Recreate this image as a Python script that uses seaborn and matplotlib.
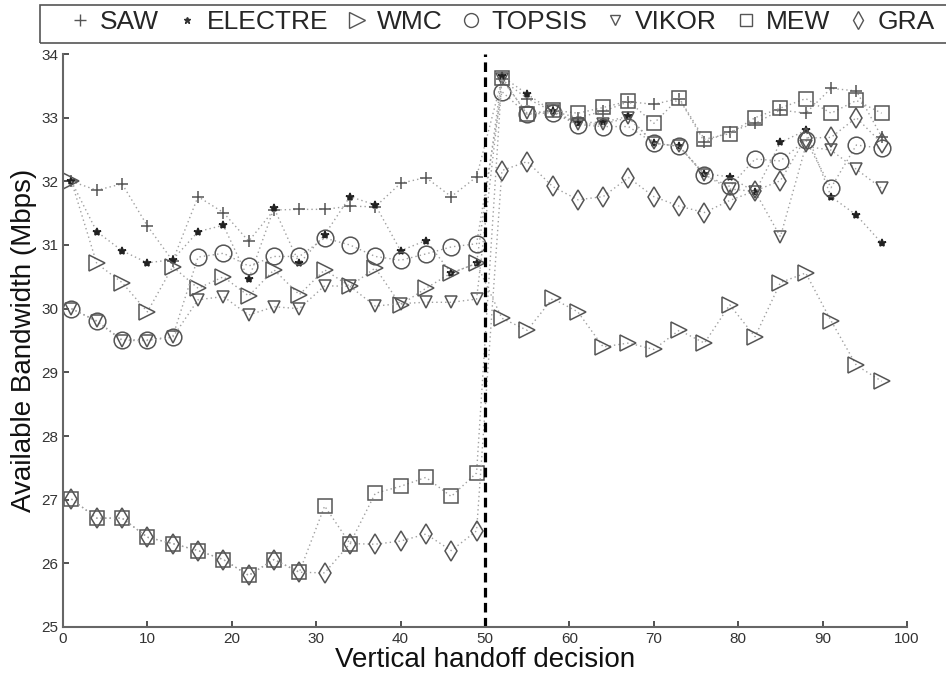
import matplotlib.pyplot as plt
import seaborn as sns
from matplotlib.lines import Line2D
from matplotlib.patches import Rectangle


# handoff decisions where a marker is drawn (every third decision)
decisions = [1, 4, 7, 10, 13, 16, 19, 22, 25, 28, 31, 34, 37, 40, 43, 46, 49,
             52, 55, 58, 61, 64, 67, 70, 73, 76, 79, 82, 85, 88, 91, 94, 97]

saw = [32.0, 31.86, 31.96, 31.3, 30.75, 31.76, 31.51, 31.06, 31.55, 31.56, 31.56, 31.61, 31.6, 31.97, 32.06, 31.76, 32.07,
       33.6, 33.3, 33.1, 33.0, 33.1, 33.25, 33.21, 33.3, 32.62, 32.78, 32.91, 33.12, 33.07, 33.46, 33.42, 32.7]
electre = [32.0, 31.21, 30.91, 30.72, 30.77, 31.21, 31.31, 30.46, 31.58, 30.71, 31.16, 31.76, 31.63, 30.91, 31.07, 30.56, 30.71,
           33.65, 33.37, 33.1, 32.92, 32.93, 33.02, 32.6, 32.55, 32.12, 32.07, 31.83, 32.61, 32.8, 31.76, 31.47, 31.03]
wmc = [32.0, 30.71, 30.41, 29.95, 30.66, 30.32, 30.5, 30.2, 30.61, 30.22, 30.61, 30.35, 30.64, 30.06, 30.32, 30.56, 30.71,
       29.85, 29.66, 30.16, 29.95, 29.4, 29.46, 29.36, 29.66, 29.46, 30.06, 29.56, 30.41, 30.56, 29.81, 29.11, 28.86]
topsis = [30.0, 29.81, 29.51, 29.51, 29.56, 30.81, 30.87, 30.67, 30.82, 30.82, 31.11, 31.0, 30.82, 30.76, 30.86, 30.97, 31.02,
          33.41, 33.05, 33.08, 32.89, 32.86, 32.86, 32.6, 32.55, 32.1, 31.92, 32.35, 32.32, 32.65, 31.9, 32.57, 32.52]
vikor = [30.0, 29.8, 29.5, 29.5, 29.55, 30.14, 30.19, 29.9, 30.03, 30.0, 30.36, 30.35, 30.04, 30.08, 30.1, 30.1, 30.15,
         33.6, 33.07, 33.1, 32.9, 32.9, 33.0, 32.6, 32.55, 32.1, 31.88, 31.84, 31.13, 32.55, 32.49, 32.19, 31.89]
mew = [27.01, 26.71, 26.71, 26.41, 26.31, 26.2, 26.06, 25.81, 26.06, 25.86, 26.9, 26.31, 27.1, 27.21, 27.35, 27.05, 27.42,
       33.62, 33.05, 33.12, 33.07, 33.16, 33.26, 32.91, 33.31, 32.66, 32.75, 33.0, 33.15, 33.3, 33.07, 33.27, 33.07]
gra = [27.01, 26.71, 26.71, 26.41, 26.31, 26.2, 26.06, 25.81, 26.06, 25.86, 25.85, 26.31, 26.3, 26.35, 26.46, 26.2, 26.51,
       32.17, 32.31, 31.92, 31.71, 31.76, 32.06, 31.76, 31.61, 31.51, 31.7, 31.85, 32.01, 32.68, 32.69, 33.0, 32.6]

methods = ['SAW', 'ELECTRE', 'WMC', 'TOPSIS', 'VIKOR', 'MEW', 'GRA']
series = [saw, electre, wmc, topsis, vikor, mew, gra]

# marker, plot size, legend size, filled
styles = {
    'SAW': ('+', 8, 8, False),
    'ELECTRE': ('*', 6, 5, True),
    'WMC': ('>', 12, 12, False),
    'TOPSIS': ('o', 12, 10, False),
    'VIKOR': ('v', 8, 7, False),
    'MEW': ('s', 10, 8.5, False),
    'GRA': ('d', 10, 9, False),
}

sns.set_style('ticks')
plt.rcParams['font.family'] = ['Liberation Sans', 'DejaVu Sans']

fig = plt.figure(figsize=(9.46, 6.73), dpi=100)
ax = fig.add_axes([63 / 946, 1 - 627 / 673, 844 / 946, 573 / 673])

for name, vals in zip(methods, series):
    marker, ms, _, filled = styles[name]
    sns.lineplot(x=decisions, y=vals, ax=ax, color='#a0a0a0', linewidth=1.0,
                 dashes=False, linestyle=(0, (1, 2.2)),
                 marker=marker, markersize=ms,
                 markerfacecolor='#222222' if filled else 'none',
                 markeredgecolor='#222222' if filled else '#555555',
                 markeredgewidth=1.1)

ax.axvline(50, color='black', linewidth=2.3, dashes=(3, 1.7))

ax.set_xlim(0, 100)
ax.set_ylim(25, 34)
ax.set_xticks(range(0, 101, 10))
ax.set_yticks(range(25, 35))
ax.tick_params(direction='in', length=4, labelsize=11, colors='#333333', width=1.2)
for side in ['top', 'right']:
    ax.spines[side].set_visible(False)
for side in ['left', 'bottom']:
    ax.spines[side].set_color('#666666')
    ax.spines[side].set_linewidth(1.5)

ax.set_xlabel('Vertical handoff decision', fontsize=20, labelpad=1, color='#111111')
ax.set_ylabel('Available Bandwidth (Mbps)', fontsize=20, labelpad=3, color='#111111')

handles = []
for name in methods:
    marker, _, lms, filled = styles[name]
    handles.append(Line2D([], [], linestyle='none', marker=marker, markersize=lms,
                          markerfacecolor='#333333' if filled else 'none',
                          markeredgecolor='#333333' if filled else '#555555',
                          markeredgewidth=1.0))
fig.legend(handles, methods, loc='center left', bbox_to_anchor=((80 - 10.5) / 946, 1 - 22 / 673),
           ncol=7, frameon=False, fontsize=19, handlelength=0.8, handletextpad=0.35,
           columnspacing=0.68, borderpad=0, borderaxespad=0)
fig.add_artist(Rectangle((40 / 946, 1 - 43 / 673), 1.0, 38 / 673, transform=fig.transFigure,
                         fill=False, edgecolor='#555555', linewidth=1.2))

fig.savefig('out.png', dpi=100)
